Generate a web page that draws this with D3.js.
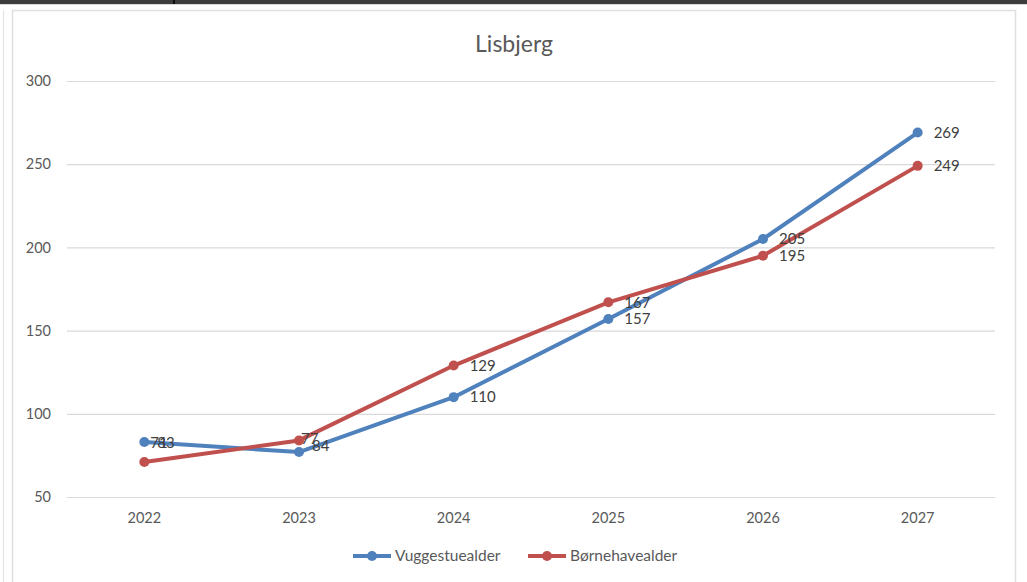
<!DOCTYPE html>
<html>
<head>
<meta charset="utf-8">
<script src="https://cdn.jsdelivr.net/npm/d3@7"></script>
<style>
  body { margin: 0; background: #fff; }
  svg { display: block; font-family: Lato, "Liberation Sans", sans-serif; }
</style>
</head>
<body>
<svg id="chart" width="1027" height="582"></svg>
<script>
var years = ["2022", "2023", "2024", "2025", "2026", "2027"];
var vuggestue = [83, 77, 110, 157, 205, 269];
var boernehave = [71, 84, 129, 167, 195, 249];
// the labels as printed in the original (2023 labels are swapped there)
var vuggestueLabels = [83, 84, 110, 157, 205, 269];
var boernehaveLabels = [71, 77, 129, 167, 195, 249];
var yTicks = [50, 100, 150, 200, 250, 300];

var svg = d3.select("#chart"),
    margin = {top: 81, left: 67, bottom: 85, right: 32},
    width = +svg.attr("width"),
    height = +svg.attr("height");

// page frame
svg.append("rect").attr("x", 0).attr("y", 0).attr("width", width).attr("height", 4).attr("fill", "#3c3c3c");
svg.append("line").attr("x1", 0).attr("x2", width).attr("y1", 4.5).attr("y2", 4.5).attr("stroke", "#d8d8d8");
svg.append("line").attr("x1", 174).attr("x2", 174).attr("y1", 0).attr("y2", 4).attr("stroke", "#000").attr("stroke-width", 1.5);
svg.append("line").attr("x1", 3.5).attr("x2", 3.5).attr("y1", 10).attr("y2", height).attr("stroke", "#e2e2e2");
svg.append("path")
  .attr("d", "M12.5," + height + "V10.5H1015.5V" + height)
  .attr("fill", "none").attr("stroke", "#e0e0e0").attr("stroke-width", 1.5);

var x = d3.scaleBand()
  .domain(years)
  .range([margin.left, width - margin.right]);

var y = d3.scaleLinear()
  .domain([50, 300])
  .range([height - margin.bottom, margin.top]);

// grid
svg.append("g")
  .attr("class", "y-grid")
  .attr("transform", "translate(" + margin.left + ",0)")
  .call(d3.axisLeft(y).tickValues(yTicks).tickSize(-(width - margin.left - margin.right)).tickFormat(""))
  .call(g => g.select(".domain").remove())
  .call(g => g.selectAll("line").attr("stroke", "#d9d9d9").attr("stroke-width", 1.2));

// y labels
svg.append("g")
  .attr("class", "y-axis")
  .attr("transform", "translate(" + margin.left + ",0)")
  .call(d3.axisLeft(y).tickValues(yTicks).tickSize(0).tickPadding(16))
  .call(g => g.select(".domain").remove())
  .call(g => g.selectAll("text").attr("fill", "#595959").attr("font-size", 14.5).attr("font-family", "Lato, sans-serif"));

// x labels
svg.append("g")
  .attr("class", "x-axis")
  .attr("transform", "translate(0," + (height - margin.bottom) + ")")
  .call(d3.axisBottom(x).tickSize(0).tickPadding(16))
  .call(g => g.select(".domain").remove())
  .call(g => g.selectAll("text").attr("fill", "#595959").attr("font-size", 14.5).attr("font-family", "Lato, sans-serif"));

// title
svg.append("text")
  .attr("x", 514)
  .attr("y", 52)
  .attr("text-anchor", "middle")
  .attr("fill", "#595959")
  .attr("font-size", 23)
  .text("Lisbjerg");

var series = [
  {name: "Vuggestuealder", values: vuggestue, labels: vuggestueLabels, color: "#4f81bd"},
  {name: "Børnehavealder", values: boernehave, labels: boernehaveLabels, color: "#c0504d"}
];

var cx = i => x(years[i]) + x.bandwidth() / 2;

var line = d3.line()
  .x((d, i) => cx(i))
  .y(d => y(d));

series.forEach(function(s) {
  svg.append("path")
    .datum(s.values)
    .attr("fill", "none")
    .attr("stroke", s.color)
    .attr("stroke-width", 4)
    .attr("stroke-linejoin", "round")
    .attr("stroke-linecap", "round")
    .attr("d", line);
  svg.selectAll(null)
    .data(s.values)
    .enter().append("circle")
    .attr("cx", (d, i) => cx(i))
    .attr("cy", d => y(d))
    .attr("r", 5)
    .attr("fill", s.color);
});

// data labels; the first two years are crowded, nudge like the original
var nudge = {
  "Vuggestuealder": {0: [13, 1], 1: [13, -6]},
  "Børnehavealder": {0: [6, -19], 1: [2, -2]}
};

series.forEach(function(s) {
  svg.selectAll(null)
    .data(s.values)
    .enter().append("text")
    .attr("x", (d, i) => cx(i) + (nudge[s.name][i] ? nudge[s.name][i][0] : 16))
    .attr("y", (d, i) => y(d) + (nudge[s.name][i] ? nudge[s.name][i][1] : 0))
    .attr("dy", "0.35em")
    .attr("fill", "#404040")
    .attr("font-size", 15)
    .text((d, i) => s.labels[i]);
});

// legend
var legend = svg.append("g").attr("transform", "translate(0,556)");
var legendX = [353, 528];
series.forEach(function(s, i) {
  var g = legend.append("g").attr("transform", "translate(" + legendX[i] + ",0)");
  g.append("line").attr("x1", 0).attr("x2", 38).attr("stroke", s.color).attr("stroke-width", 4);
  g.append("circle").attr("cx", 19).attr("r", 5).attr("fill", s.color);
  g.append("text").attr("x", 42).attr("dy", "0.35em").attr("fill", "#595959").attr("font-size", 15.5).text(s.name);
});
</script>
</body>
</html>
